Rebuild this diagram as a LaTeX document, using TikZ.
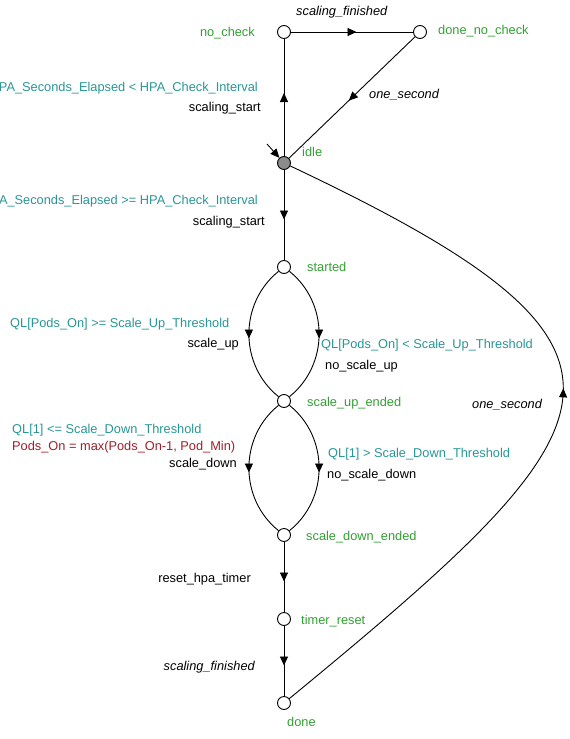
\documentclass[tikz,border=0pt]{standalone}
\usepackage{fontspec}
\setmainfont{Liberation Sans}
\usetikzlibrary{arrows.meta,decorations.markings}
\definecolor{locgreen}{RGB}{50,160,50}
\definecolor{guardteal}{RGB}{40,150,150}
\definecolor{assignred}{RGB}{160,30,40}
\newcommand{\lblfont}{\fontsize{12.8}{15}\selectfont}
\tikzset{
  loc/.style={circle, draw=black, fill=white, minimum size=13pt, inner sep=0pt, line width=0.9pt},
  edge/.style={line width=0.9pt, postaction={decorate},
    decoration={markings, mark=at position #1 with {\arrow[xshift=4.5pt]{Triangle[length=9pt,width=8pt]}}}},
  edge/.default=0.5,
  lbl/.style={inner sep=0pt, text height=8pt, text depth=0pt, font=\lblfont},
  locname/.style={lbl, text=locgreen},
  guard/.style={lbl, text=guardteal},
  assign/.style={lbl, text=assignred},
  sync/.style={lbl, text=black},
  syncit/.style={lbl, text=black, font=\lblfont\itshape},
}
\begin{document}
\begin{tikzpicture}[x=1pt,y=-1pt]
\useasboundingbox (0,0) rectangle (570,739);

% locations
\node[loc] (nocheck) at (284,32) {};
\node[loc] (donenocheck) at (420,32) {};
\node[loc, fill=black!45] (idle) at (284,163) {};
\node[loc] (started) at (284,267) {};
\node[loc] (sue) at (284,401) {};
\node[loc] (sde) at (284,535) {};
\node[loc] (timerreset) at (284,619) {};
\node[loc] (done) at (284,703) {};
\coordinate (init) at (267,144);

% location names
\node[locname, anchor=east] at (255,32) {no\_check};
\node[locname, anchor=west] at (438,30) {done\_no\_check};
\node[locname, anchor=west] at (302,152) {idle};
\node[locname, anchor=west] at (307,267) {started};
\node[locname, anchor=west] at (307,402) {scale\_up\_ended};
\node[locname, anchor=west] at (306,536) {scale\_down\_ended};
\node[locname, anchor=west] at (301,620) {timer\_reset};
\node[locname, anchor=west] at (287,722) {done};

% edges
\draw[line width=0.9pt, -{Triangle[length=9pt,width=8pt]}] (init) -- (idle);
\draw[edge] (idle) -- (nocheck);
\draw[edge] (nocheck) -- (donenocheck);
\draw[edge] (donenocheck) -- (idle);
\draw[edge] (idle) -- (started);
\draw[edge] (started) .. controls (239,303) and (239,365) .. (sue);
\draw[edge] (started) .. controls (329,303) and (329,365) .. (sue);
\draw[edge] (sue) .. controls (239,437) and (239,499) .. (sde);
\draw[edge] (sue) .. controls (329,437) and (329,499) .. (sde);
\draw[edge] (sde) -- (timerreset);
\draw[edge] (timerreset) -- (done);
\draw[edge=0.53] (done) .. controls (628,420) and (680,350) .. (idle);

% edge labels
\node[syncit, anchor=west] at (296,11) {scaling\_finished};
\node[guard, anchor=east] at (258,87) {PA\_Seconds\_Elapsed < HPA\_Check\_Interval};
\node[sync, anchor=east] at (261,107.5) {scaling\_start};
\node[syncit, anchor=west] at (369,94) {one\_second};
\node[guard, anchor=east] at (258,200) {A\_Seconds\_Elapsed >= HPA\_Check\_Interval};
\node[sync, anchor=east] at (265,221) {scaling\_start};
\node[guard, anchor=west] at (10,323) {QL[Pods\_On] >= Scale\_Up\_Threshold};
\node[sync, anchor=east] at (239,343) {scale\_up};
\node[guard, anchor=west] at (321,344) {QL[Pods\_On] < Scale\_Up\_Threshold};
\node[sync, anchor=west] at (325,365) {no\_scale\_up};
\node[syncit, anchor=west] at (472,404) {one\_second};
\node[guard, anchor=west] at (12,429) {QL[1] <= Scale\_Down\_Threshold};
\node[assign, anchor=west] at (12,446) {Pods\_On = max(Pods\_On-1, Pod\_Min)};
\node[sync, anchor=east] at (237,463) {scale\_down};
\node[guard, anchor=west] at (328,453) {QL[1] > Scale\_Down\_Threshold};
\node[sync, anchor=west] at (327,474) {no\_scale\_down};
\node[sync, anchor=east] at (251,578) {reset\_hpa\_timer};
\node[syncit, anchor=east] at (255,666) {scaling\_finished};
\end{tikzpicture}
\end{document}
